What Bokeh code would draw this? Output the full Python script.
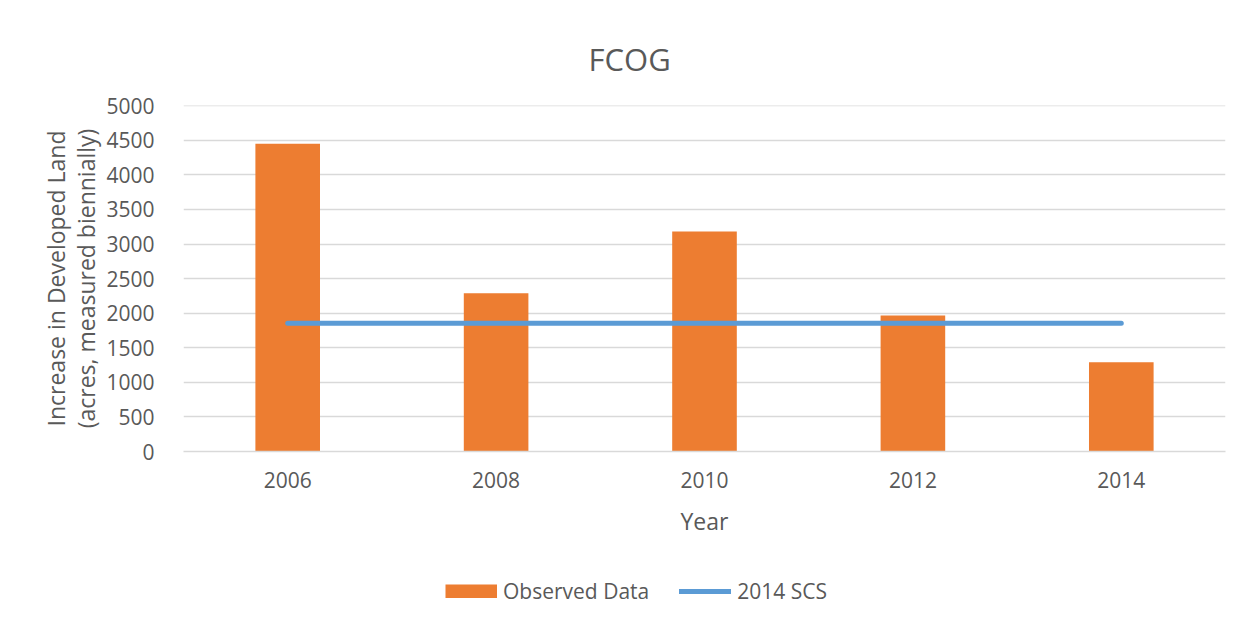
from bokeh.plotting import figure
from bokeh.models import FactorRange, Range1d, FixedTicker, Legend, LegendItem
from bokeh.layouts import column
from bokeh.embed import file_html
from bokeh.resources import INLINE

years = ["2006", "2008", "2010", "2012", "2014"]
observed = [4450, 2290, 3180, 1965, 1290]
scs_years = ["2006", "2008", "2010", "2012", "2014"]
scs_values = [1855, 1855, 1855, 1855, 1855]
y_ticks = [0, 500, 1000, 1500, 2000, 2500, 3000, 3500, 4000, 4500, 5000]

FONT = "Open Sans"
GRAY = "#595959"
ORANGE = "#ED7D31"
BLUE = "#5B9BD5"

p = figure(width=1244, height=560, x_range=FactorRange(*years, range_padding=0),
           y_range=Range1d(0, 5003), output_backend="svg", toolbar_location=None,
           min_border_left=183, min_border_right=19, min_border_top=105, min_border_bottom=109)

bars = p.vbar(x=years, top=observed, width=0.31, fill_color=ORANGE, line_color=None)
line = p.line(x=scs_years, y=scs_values, line_color=BLUE, line_width=5, line_cap="round")

p.title.text = "FCOG"
p.title.align = "left"
p.title.offset = 405
p.title.text_font = FONT
p.title.text_font_size = "31px"
p.title.text_font_style = "normal"
p.title.text_color = GRAY
p.title.standoff = 52

p.outline_line_color = None
p.xgrid.grid_line_color = None
p.ygrid.grid_line_color = "#d9d9d9"
p.ygrid.grid_line_width = 1.5
p.yaxis.ticker = FixedTicker(ticks=y_ticks)
p.yaxis.axis_line_color = None
p.yaxis.major_tick_line_color = None
p.yaxis.minor_tick_line_color = None
p.yaxis.major_label_standoff = 23
p.yaxis.axis_label = "Increase in Developed Land\n(acres, measured biennially)"
p.yaxis.axis_label_standoff = 1
p.yaxis.axis_label_text_line_height = 0.96
p.xaxis.axis_label = "Year"
p.xaxis.axis_line_color = "#d9d9d9"
p.xaxis.axis_line_width = 1.5
p.xaxis.major_tick_line_color = None
p.xaxis.major_label_standoff = 14
p.xaxis.axis_label_standoff = 14
for ax in (p.xaxis, p.yaxis):
    ax.major_label_text_font = FONT
    ax.major_label_text_font_size = "21px"
    ax.major_label_text_color = GRAY
    ax.axis_label_text_font = FONT
    ax.axis_label_text_font_size = "23px"
    ax.axis_label_text_font_style = "normal"
    ax.axis_label_text_color = GRAY

# legend strip below the chart
lg = figure(width=1244, height=56, x_range=Range1d(0, 9.7), y_range=Range1d(0, 9.7),
            output_backend="svg", toolbar_location=None, min_border=0)
lg.xaxis.visible = False
lg.yaxis.visible = False
lg.xgrid.visible = False
lg.ygrid.visible = False
lg.outline_line_color = None
lbar = lg.line(x=[50, 60], y=[5, 5], line_color=ORANGE, line_width=14, line_cap="butt")
lline = lg.line(x=[50, 60], y=[5, 5], line_color=BLUE, line_width=5, line_cap="round")
legend = Legend(items=[LegendItem(label="Observed Data", renderers=[lbar]),
                       LegendItem(label="2014 SCS", renderers=[lline])],
                orientation="horizontal", location=(262, 11),
                glyph_width=52, glyph_height=14, spacing=30,
                label_text_font=FONT, label_text_font_size="21px", label_text_color=GRAY,
                border_line_color=None, background_fill_alpha=0, margin=0, padding=0, label_standoff=6)
lg.add_layout(legend)

layout = column(p, lg, spacing=0)
open("out.html", "w").write(file_html(layout, INLINE))
